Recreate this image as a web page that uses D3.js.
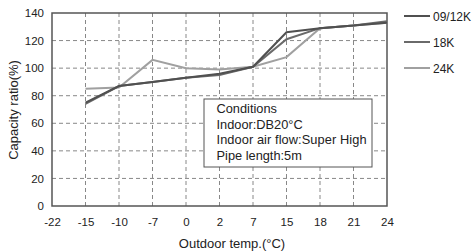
<!DOCTYPE html>
<html lang="en">
<head>
    <meta charset="UTF-8">
    <title>Capacity ratio</title>
    <script src="https://d3js.org/d3.v7.min.js"></script>
    <style>
        body{ margin:0; background:#fff; }
        svg text{ font-family: "Liberation Sans", Arial, sans-serif; }
    </style>
</head>
<body>
<svg id="canvas" width="474" height="252"></svg>
<script>
    // x categories (equally spaced on the chart)
    const temps = ["-22","-15","-10","-7","0","2","7","15","18","21","24"];
    const yTicks = [0,20,40,60,80,100,120,140];
    const seriesNames = ["09/12K","18K","24K"];
    const seriesColors = ["#505050","#6a6a6a","#a0a0a0"];
    // values start at -15
    const s0912 = [75, 87, 90, 93, 96, 101, 126, 129, 131, 133];
    const s18   = [74, 87, 90, 93, 95, 101, 121, 129, 131, 134];
    const s24   = [85, 86, 106, 100, 99, 101, 108, 129, 131, 133];
    const conditions = ["Conditions","Indoor:DB20°C","Indoor air flow:Super High","Pipe length:5m"];

    const svg = d3.select("#canvas");
    const mLeft = 52, mRight = 387, mTop = 13, mBottom = 206;

    const x = d3.scalePoint().domain(temps).range([mLeft, mRight]);
    const y = d3.scaleLinear().domain([0,140]).range([mBottom, mTop]);

    // grid
    const grid = svg.append("g");
    grid.selectAll(".hg").data(yTicks.slice(1,-1)).enter().append("line")
        .attr("x1", mLeft).attr("x2", mRight)
        .attr("y1", d=>y(d)).attr("y2", d=>y(d))
        .attr("stroke","#888").attr("stroke-dasharray","4,3");
    grid.selectAll(".vg").data(temps.slice(1,-1)).enter().append("line")
        .attr("x1", d=>x(d)).attr("x2", d=>x(d))
        .attr("y1", mTop).attr("y2", mBottom)
        .attr("stroke","#888").attr("stroke-dasharray","4,3");

    // frame
    svg.append("rect").attr("x",mLeft).attr("y",mTop)
        .attr("width",mRight-mLeft).attr("height",mBottom-mTop)
        .attr("fill","none").attr("stroke","#555").attr("stroke-width",1.5);

    // axes labels
    const yAxis = d3.axisLeft(y).tickValues(yTicks).tickSize(0).tickPadding(8);
    svg.append("g").attr("transform",`translate(${mLeft},0)`).call(yAxis)
        .call(g=>g.select(".domain").remove())
        .selectAll("text").attr("font-size",11.5).attr("fill","#222");
    const xAxis = d3.axisBottom(x).tickSize(0).tickPadding(12);
    svg.append("g").attr("transform",`translate(0,${mBottom})`).call(xAxis)
        .call(g=>g.select(".domain").remove())
        .selectAll("text").attr("font-size",11.5).attr("fill","#222");

    // lines
    const line = d3.line().x((d,i)=>x(temps[i+1])).y(d=>y(d));
    const allSeries = [s24, s18, s0912];
    const cols = [seriesColors[2], seriesColors[1], seriesColors[0]];
    allSeries.forEach((s,k)=>{
        svg.append("path").attr("d", line(s)).attr("fill","none")
            .attr("stroke", cols[k]).attr("stroke-width", 2);
    });

    // legend
    const lg = svg.append("g");
    seriesNames.forEach((n,i)=>{
        const ly = 16 + i*26;
        lg.append("line").attr("x1",404).attr("x2",430).attr("y1",ly).attr("y2",ly)
            .attr("stroke",seriesColors[i]).attr("stroke-width",2);
        lg.append("text").attr("x",433).attr("y",ly+4.5).attr("font-size",12)
            .attr("fill","#222").text(n);
    });

    // conditions box
    svg.append("rect").attr("x",204).attr("y",99).attr("width",168).attr("height",68)
        .attr("fill","#fff").attr("stroke","#555").attr("stroke-width",1);
    svg.append("g").selectAll("text").data(conditions).enter().append("text")
        .attr("x",216.5).attr("y",(d,i)=>113+i*15.6).attr("font-size",12.8).attr("fill","#222")
        .attr("textLength",d=>d.length>20?150:null)
        .text(d=>d);

    // axis titles
    svg.append("text").attr("transform","translate(18,110) rotate(-90)")
        .attr("text-anchor","middle").attr("font-size",13).attr("fill","#222")
        .text("Capacity ratio(%)");
    svg.append("text").attr("x",232).attr("y",248).attr("text-anchor","middle")
        .attr("font-size",13).attr("fill","#222").text("Outdoor temp.(°C)");
</script>
</body>
</html>
